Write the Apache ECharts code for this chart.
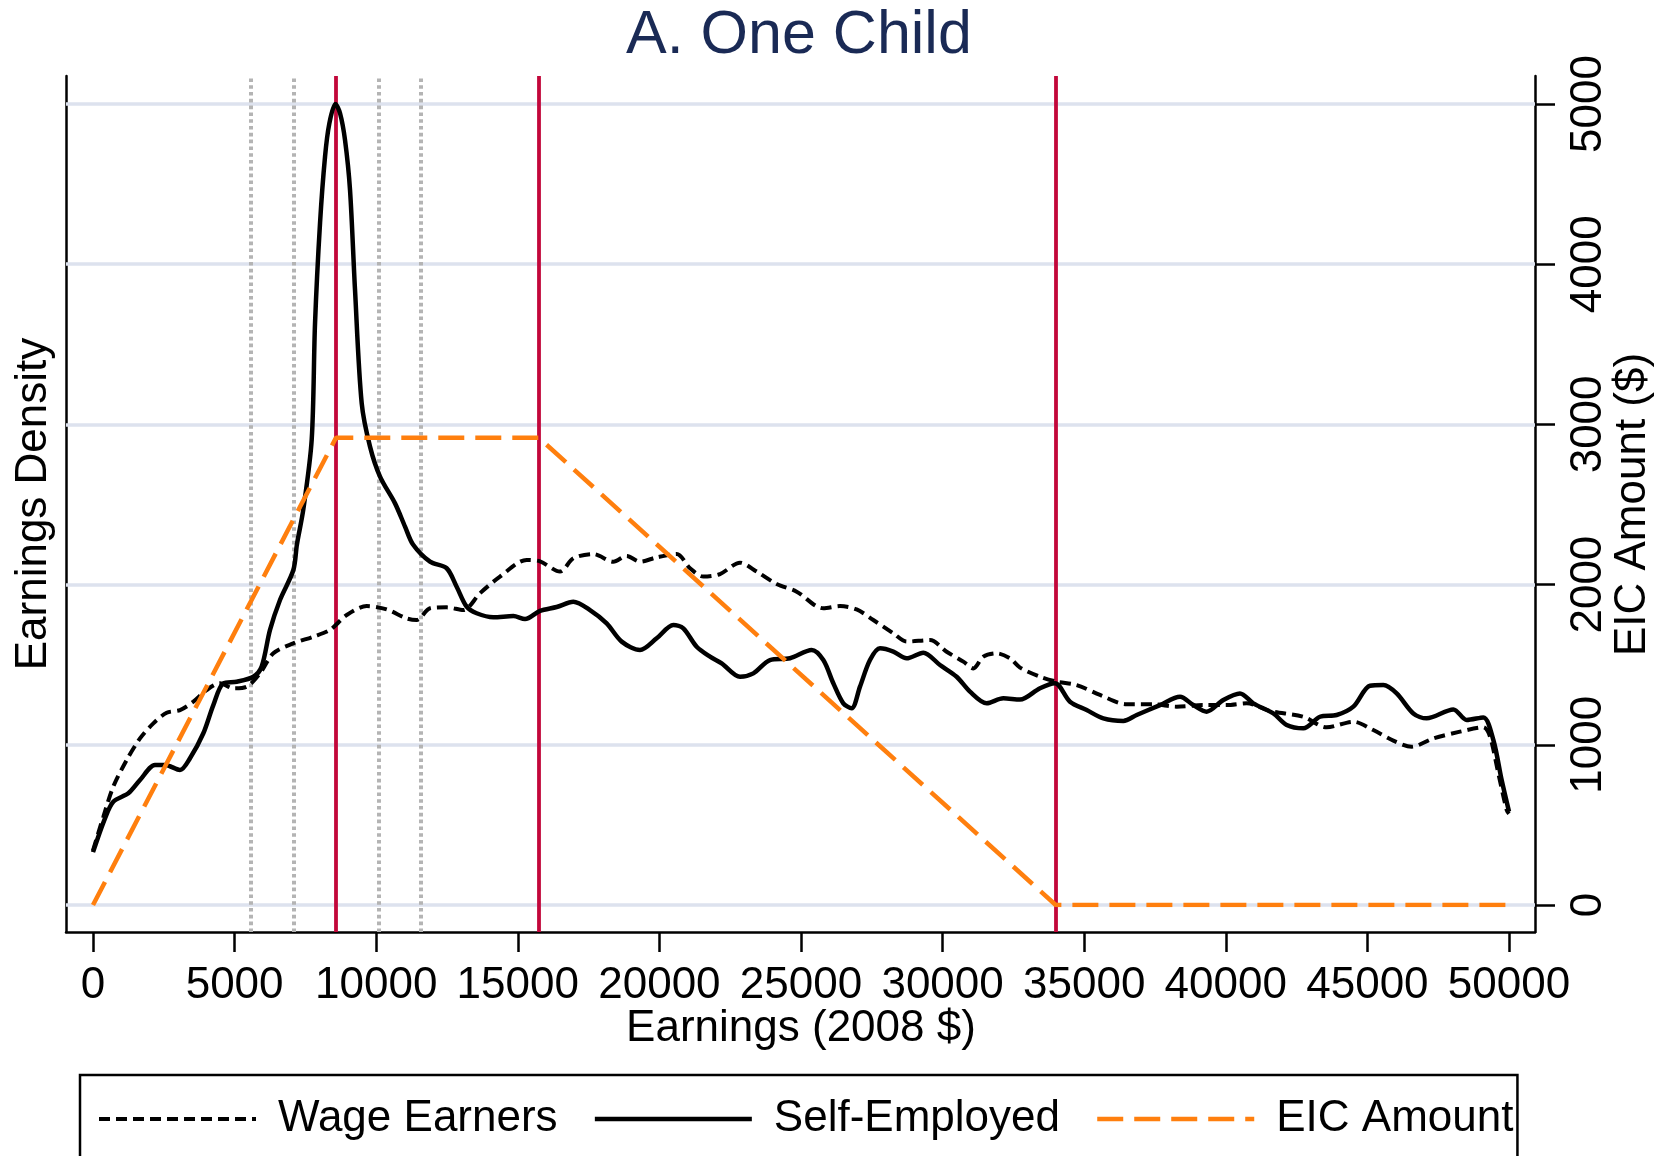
<!DOCTYPE html>
<html><head><meta charset="utf-8">
<script src="https://cdn.jsdelivr.net/npm/echarts@6/dist/echarts.min.js"></script>
<style>html,body{margin:0;padding:0;background:#fff}#chart{width:1660px;height:1156px}</style>
</head><body><div id="chart"></div>
<script>
// ---- data ----
const wageX = [0,365,717,1189,1660,2131,2602,3072,3543,4014,4485,4955,5426,5897,6368,7074,7780,8369,8958,9665,10371,11077,11430,11900,12488,13077,13665,14371,15313,15785,16490,16961,17667,18373,18844,19315,19904,20610,21081,21552,22140,22846,23435,24141,24847,25788,26376,26965,27553,28260,28731,29555,30143,30732,31085,31438,31909,32380,32733,33439,34028,34734,35558,36500,37441,38265,39206,40030,40736,41560,42737,43561,44503,45209,45915,46563,47328,48270,49094,49329,49623,49918,50000];
const wageY = [340,551,739,905,1040,1134,1200,1217,1269,1342,1384,1353,1363,1446,1571,1633,1675,1717,1810,1866,1845,1789,1779,1852,1858,1841,1946,2050,2154,2145,2081,2164,2191,2143,2179,2143,2170,2191,2102,2050,2066,2137,2081,2004,1956,1852,1866,1845,1779,1696,1644,1654,1581,1519,1477,1550,1571,1540,1482,1425,1394,1373,1311,1253,1253,1238,1248,1248,1259,1211,1175,1109,1144,1092,1026,988,1040,1082,1109,1051,822,593,570];
const selfX = [0,424,717,1248,1660,2189,2543,3072,3425,3896,4249,4602,5073,5662,5956,6250,6603,7074,7200,7427,7722,7840,8016,8193,8346,8560,8723,8899,9076,9252,9488,9782,10135,10665,11018,11300,11900,12488,12841,13194,13547,14136,14843,15255,15785,16372,16961,17549,18138,18668,19315,19904,20492,20845,21316,21787,22199,22846,23317,23905,24611,25376,25788,26141,26494,26788,27083,27436,27789,28260,28731,29319,29908,30496,30967,31556,32144,32733,33439,33969,34498,35087,35676,36382,36853,37677,38383,38854,39324,39913,40501,40972,41678,42149,42737,43326,43915,44503,45092,45563,46034,46622,47093,48035,48506,49094,49447,49741,50000];
const selfY = [330,541,645,697,780,874,874,843,916,1072,1248,1384,1394,1425,1488,1717,1904,2091,2250,2470,2903,3631,4255,4671,4879,5000,4942,4775,4463,3839,3132,2861,2674,2507,2362,2250,2143,2102,1987,1862,1821,1796,1804,1785,1836,1860,1893,1841,1758,1644,1592,1665,1748,1727,1612,1550,1509,1425,1446,1529,1540,1592,1529,1384,1259,1228,1363,1529,1602,1582,1540,1575,1498,1425,1332,1259,1290,1282,1353,1384,1269,1217,1165,1149,1186,1248,1300,1248,1207,1280,1321,1259,1196,1124,1103,1175,1186,1238,1369,1373,1321,1196,1165,1221,1155,1171,1030,780,583];
const eicX = [0,8580,15740,33995,50000];
const eicY = [0,2917,2917,0,0];
const kinkLines = [8580,15740,33995];
const bandLines = [5580,7080,10080,11580];
const gridLevels = [0,1000,2000,3000,4000,5000];
const seriesNames = ['Wage Earners','Self-Employed','EIC Amount'];
const titleText = 'A. One Child';
const xTitle = 'Earnings (2008 $)';
const yLeftTitle = 'Earnings Density';
const yRightTitle = 'EIC Amount ($)';

// ---- styles ----
const FONT = 'Liberation Sans, Arial, Helvetica, sans-serif';
const wageLine = {color:'#000', width:4, type:[11,6]};
const selfLine = {color:'#000', width:4.5, type:'solid'};
const eicLine  = {color:'#ff7f0e', width:4.5, type:[26,11]};

// ---- layout ----
const D = {left:93, top:104, width:1416, height:801};   // data area (0..50000, 0..5000)
const F = {left:66, top:76, width:1469, height:856};    // frame (axis lines)
const pxX = D.width/50000, pxY = D.height/5000;
const fxMin = -(D.left-F.left)/pxX;
const fxMax = 50000 + ((F.left+F.width)-(D.left+D.width))/pxX;
const fyMin = -((F.top+F.height)-(D.top+D.height))/pxY;
const fyMax = 5000 + (D.top-F.top)/pxY;

const zip = (xs, ys) => xs.map((x,i)=>[x, ys[i]]);
const plain = v => String(Math.round(v));

const chart = echarts.init(document.getElementById('chart'), null, {renderer:'canvas'});
chart.setOption({
  animation:false,
  backgroundColor:'#fff',
  textStyle:{fontFamily:FONT},
  title:{text:titleText, left:626, top:6, padding:0,
    textStyle:{fontFamily:FONT, fontSize:61, fontWeight:'normal', color:'#1a2a55'}},
  legend:{
    data:[
      {name:seriesNames[0], lineStyle:Object.assign({}, wageLine)},
      {name:seriesNames[1], lineStyle:Object.assign({}, selfLine)},
      {name:seriesNames[2], lineStyle:Object.assign({}, eicLine)}
    ],
    left:80, top:1075, orient:'horizontal',
    padding:[22,4,30,17], borderColor:'#000', borderWidth:2.5,
    itemWidth:157, itemHeight:14, itemGap:35,
    itemStyle:{opacity:0},
    textStyle:{fontFamily:FONT, fontSize:44, color:'#000', padding:[0,0,0,17]}},
  grid:[
    Object.assign({outerBoundsMode:'none', containLabel:false}, D),
    Object.assign({outerBoundsMode:'none', containLabel:false}, F)
  ],
  xAxis:[
    {gridIndex:0, type:'value', min:0, max:50000, interval:5000, position:'bottom', offset:27,
      axisLine:{show:false, onZero:false},
      axisTick:{show:true, length:20, lineStyle:{color:'#000', width:2.5}},
      axisLabel:{show:true, fontFamily:FONT, fontSize:44, color:'#000', margin:32, hideOverlap:false, formatter:plain},
      splitLine:{show:false},
      name:xTitle, nameLocation:'middle', nameGap:75, nameMoveOverlap:false,
      nameTextStyle:{fontFamily:FONT, fontSize:44, color:'#000'}},
    {gridIndex:1, type:'value', min:fxMin, max:fxMax, position:'bottom',
      axisLine:{show:true, onZero:false, lineStyle:{color:'#000', width:2.5}},
      axisTick:{show:false}, axisLabel:{show:false}, splitLine:{show:false}}
  ],
  yAxis:[
    {gridIndex:0, type:'value', min:0, max:5000, interval:1000, position:'right', offset:26,
      axisLine:{show:false, onZero:false},
      axisTick:{show:true, length:20, lineStyle:{color:'#000', width:2.5}},
      axisLabel:{show:true, rotate:90, fontFamily:FONT, fontSize:44, color:'#000', margin:32, hideOverlap:false, formatter:plain},
      splitLine:{show:false},
      name:yRightTitle, nameLocation:'middle', nameGap:76, nameRotate:90, nameMoveOverlap:false,
      nameTextStyle:{fontFamily:FONT, fontSize:44, color:'#000'}},
    {gridIndex:1, type:'value', min:fyMin, max:fyMax, position:'left',
      axisLine:{show:true, onZero:false, lineStyle:{color:'#000', width:2.5}},
      axisTick:{show:false}, axisLabel:{show:false}, splitLine:{show:false},
      name:yLeftTitle, nameLocation:'middle', nameGap:10, nameRotate:90, nameMoveOverlap:false,
      nameTextStyle:{fontFamily:FONT, fontSize:44, color:'#000'}},
    {gridIndex:1, type:'value', min:fyMin, max:fyMax, position:'right',
      axisLine:{show:true, onZero:false, lineStyle:{color:'#000', width:2.5}},
      axisTick:{show:false}, axisLabel:{show:false}, splitLine:{show:false}}
  ],
  series:[
    {type:'line', xAxisIndex:1, yAxisIndex:1, data:[], silent:true, z:1,
      markLine:{silent:true, symbol:['none','none'], label:{show:false}, z:1,
        emphasis:{disabled:true},
        lineStyle:{color:'#dde2ee', width:3.5, type:'solid'},
        data:gridLevels.map(v=>({yAxis:v}))}},
    {type:'line', xAxisIndex:1, yAxisIndex:1, data:[], silent:true, z:2,
      markLine:{silent:true, symbol:['none','none'], label:{show:false}, z:2,
        emphasis:{disabled:true},
        data:bandLines.map(v=>({xAxis:v, lineStyle:{color:'#b4b4b4', width:4, type:[3.6,3.2]}}))
          .concat(kinkLines.map(v=>({xAxis:v, lineStyle:{color:'#c2073a', width:3.8, type:'solid'}})))}},
    {name:seriesNames[0], type:'line', xAxisIndex:0, yAxisIndex:0, data:zip(wageX,wageY),
      symbol:'none', smooth:0.3, z:5, lineStyle:wageLine, itemStyle:{color:'#000'}},
    {name:seriesNames[1], type:'line', xAxisIndex:0, yAxisIndex:0, data:zip(selfX,selfY),
      symbol:'none', smooth:0.3, z:6, lineStyle:selfLine, itemStyle:{color:'#000'}},
    {name:seriesNames[2], type:'line', xAxisIndex:0, yAxisIndex:0, data:zip(eicX,eicY),
      symbol:'none', smooth:false, z:7, lineStyle:eicLine, itemStyle:{color:'#ff7f0e'}}
  ]
});
</script></body></html>
